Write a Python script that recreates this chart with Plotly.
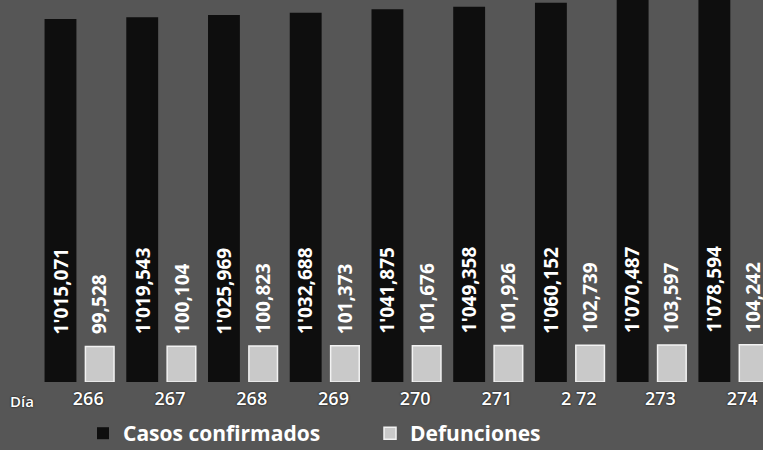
import plotly.graph_objects as go

dias = [266, 267, 268, 269, 270, 271, 272, 273, 274]
casos = [1015071, 1019543, 1025969, 1032688, 1041875, 1049358, 1060152, 1070487, 1078594]
defunciones = [99528, 100104, 100823, 101373, 101676, 101926, 102739, 103597, 104242]
dia_labels = ["266", "267", "268", "269", "270", "271", "2 72", "273", "274"]


def fmt(v):
    if v >= 1_000_000:
        return f"{v // 1_000_000}'{(v % 1_000_000) // 1000:03d},{v % 1000:03d}"
    return f"{v // 1000},{v % 1000:03d}"


BG = "#565656"
FONT = "Open Sans"
OFF = 0.24

x_c = [d - OFF for d in dias]
x_d = [d + OFF for d in dias]

fig = go.Figure()
fig.add_trace(go.Bar(
    x=x_c, y=casos, width=0.39, name="Casos confirmados",
    marker=dict(color="#0e0e0e", line=dict(width=0)),
))
fig.add_trace(go.Bar(
    x=x_d, y=defunciones, width=0.35, name="Defunciones",
    marker=dict(color="#c9c9c9", line=dict(color="#f2f2f2", width=1.5)),
))

ann = []
for xc, xd, c, d in zip(x_c, x_d, casos, defunciones):
    for xx, val in ((xc, c), (xd, d)):
        ann.append(dict(
            x=xx, y=d, xref="x", yref="y", text=fmt(val), showarrow=False,
            textangle=-90, yanchor="bottom", xanchor="center", yshift=10,
            font=dict(family=FONT, size=19, color="white", weight="bold"),
        ))
ann.append(dict(
    x=0.01, y=-0.05, xref="paper", yref="paper", text="Día", showarrow=False,
    xanchor="left", yanchor="middle",
    font=dict(family=FONT, size=15, color="white", weight=600,
              shadow="0px 0px 2px #000"),
))

fig.update_layout(
    width=763, height=450,
    margin=dict(l=0, r=0, t=0, b=68, autoexpand=False),
    paper_bgcolor=BG, plot_bgcolor=BG,
    barmode="overlay",
    showlegend=True,
    legend=dict(
        orientation="h", x=0.1088, y=-0.135, xanchor="left", yanchor="middle",
        font=dict(family=FONT, size=21, color="white", weight="bold"),
        entrywidth=242, itemwidth=30, bgcolor="rgba(0,0,0,0)",
    ),
    xaxis=dict(
        range=[265.02, 274.355], tickvals=[d + 0.1 for d in dias], ticktext=dia_labels,
        showgrid=False, zeroline=False, showline=False, ticks="",
        ticklabelstandoff=4,
        tickfont=dict(family=FONT, size=18, color="white", weight=600,
                      shadow="0px 0px 2px #000"),
    ),
    yaxis=dict(range=[0, 1068000], visible=False, showgrid=False),
    annotations=ann,
)

fig.write_html("out.html", config={"displayModeBar": False},
               post_script="document.body.style.margin='0px';")
